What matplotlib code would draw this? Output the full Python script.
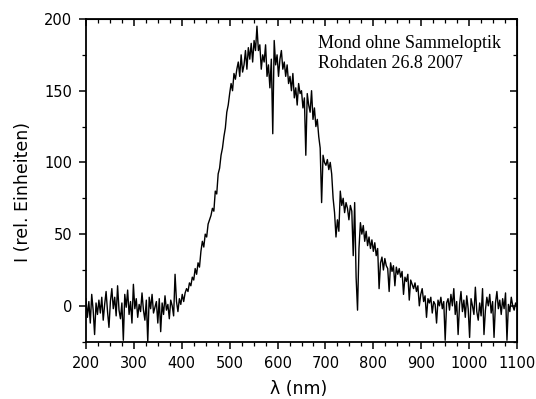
import numpy as np
import matplotlib
matplotlib.use('Agg')
import matplotlib.pyplot as plt
from matplotlib.ticker import MultipleLocator

# Wellenlaengen (nm), Schrittweite 3 nm
wl = np.arange(200, 1101, 3)

# Intensitaet (rel. Einheiten)
intens = np.array([
    5, -8, 3, -12, 8, -3, -20, 2, -6, 4,            # 200
    -5, 6, -10, 1, 10, -4, -15, 3, 12, -2,          # 230
    6, -7, 14, -3, -9, 2, -24, 8, -1, 11,           # 260
    -6, 3, -12, 15, -2, 5, -8, 1, -4, 9,            # 290
    -3, -10, 4, -25, 6, -2, 8, -5, -1, 3,           # 320
    -12, 5, -18, 2, -6, 7, -3, 1, -9, 4,            # 350
    0, -7, 22, 3, -4, 5, 1, 8, 3, 9,                # 380
    12, 10, 16, 14, 20, 18, 26, 22, 30, 27,         # 410
    38, 45, 41, 50, 48, 57, 60, 63, 68, 66,         # 440
    80, 78, 92, 96, 105, 110, 118, 124, 135, 140,   # 470
    148, 155, 150, 162, 158, 165, 170, 160, 175, 163,  # 500
    168, 178, 165, 180, 172, 183, 170, 185, 178, 195,  # 530
    178, 182, 165, 175, 170, 182, 160, 168, 152, 172,  # 560
    120, 185, 168, 175, 160, 172, 178, 165, 170, 160,  # 590
    168, 155, 160, 150, 162, 145, 152, 140, 155, 148,  # 620
    150, 138, 145, 105, 148, 140, 135, 150, 130, 138,  # 650
    125, 130, 118, 110, 72, 105, 100, 98, 102, 95,     # 680
    100, 92, 75, 65, 48, 60, 52, 80, 70, 75,        # 710
    65, 72, 68, 60, 70, 66, 35, 72, 20, -3,         # 740
    40, 58, 50, 56, 45, 52, 42, 48, 40, 46,         # 770
    38, 44, 35, 40, 12, 30, 34, 25, 33, 28,         # 800
    26, 10, 30, 24, 28, 14, 27, 22, 26, 20,         # 830
    24, 8, 20, 17, 22, 4, 18, 15, 12, 16,           # 860
    10, 14, 0, 8, 12, 3, 7, -8, 5, 2,               # 890
    6, -5, 3, 1, -12, 4, 0, 6, -2, 3,               # 920
    -24, 2, 5, -3, 8, 0, 12, -6, 3, -20,            # 950
    1, 10, -4, 4, -8, 7, -2, -22, 5, 0,             # 980
    -6, 13, -4, -10, 2, -7, 12, -20, -3, 6,         # 1010
    0, 8, -5, 3, -22, 2, 10, -2, 4, -6,             # 1040
    5, -2, 9, -24, 1, -4, 6, 0, -3, 2,              # 1070
    0,                                              # 1100
], dtype=float)

plt.rcParams['font.family'] = 'DejaVu Sans'

fig = plt.figure(figsize=(5.36, 3.99), dpi=100)
ax = fig.add_axes([0.1604, 0.1436, 0.8042, 0.8088])

ax.plot(wl, intens, color='black', lw=1.0)

ax.set_xlim(200, 1100)
ax.set_ylim(-25, 200)
ax.xaxis.set_major_locator(MultipleLocator(100))
ax.xaxis.set_minor_locator(MultipleLocator(25))
ax.yaxis.set_major_locator(MultipleLocator(50))
ax.yaxis.set_minor_locator(MultipleLocator(25))

for s in ax.spines.values():
    s.set_linewidth(1.3)

ax.tick_params(which='major', direction='out', length=5, width=1.1,
               labelsize=10.5, pad=5)
ax.tick_params(which='minor', direction='out', length=3, width=0.9)

# oben und rechts: Ticks nach innen, ohne Beschriftung
top = ax.secondary_xaxis('top')
top.xaxis.set_major_locator(MultipleLocator(100))
top.xaxis.set_minor_locator(MultipleLocator(25))
top.tick_params(which='major', direction='in', length=5, width=1.1, labeltop=False)
top.tick_params(which='minor', direction='in', length=3, width=0.9)
right = ax.secondary_yaxis('right')
right.yaxis.set_major_locator(MultipleLocator(50))
right.yaxis.set_minor_locator(MultipleLocator(25))
right.tick_params(which='major', direction='in', length=5, width=1.1, labelright=False)
right.tick_params(which='minor', direction='in', length=3, width=0.9)

ax.set_xlabel('λ (nm)', fontsize=12.5)
ax.set_ylabel('I (rel. Einheiten)', fontsize=12.5)
ax.xaxis.set_label_coords(0.494, -0.118)
ax.yaxis.set_label_coords(-0.125, 0.464)

ax.text(0.538, 0.95, 'Mond ohne Sammeloptik\nRohdaten 26.8 2007',
        transform=ax.transAxes, ha='left', va='top',
        family='Liberation Serif', fontsize=13, linespacing=1.25)

fig.savefig('out.png', dpi=100)
